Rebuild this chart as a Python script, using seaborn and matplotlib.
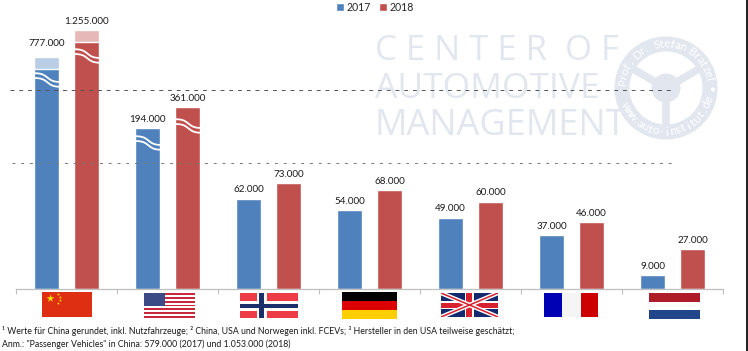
import numpy as np
import pandas as pd
import matplotlib
matplotlib.use("Agg")
import matplotlib.pyplot as plt
import matplotlib.patches as mpatches
import seaborn as sns

countries = ["China", "USA", "Norwegen", "Deutschland", "UK", "Frankreich", "Niederlande"]
total_2017 = [777000, 194000, 62000, 54000, 49000, 37000, 9000]
total_2018 = [1255000, 361000, 73000, 68000, 60000, 46000, 27000]
# China solid part = passenger vehicles only
solid_2017 = [579000, 194000, 62000, 54000, 49000, 37000, 9000]
solid_2018 = [1053000, 361000, 73000, 68000, 60000, 46000, 27000]
years = ["2017", "2018"]

footnote_1 = "¹ Werte für China gerundet, inkl. Nutzfahrzeuge; ² China, USA und Norwegen inkl. FCEVs; ³ Hersteller in den USA teilweise geschätzt;"
footnote_2 = 'Anm.: "Passenger Vehicles" in China: 579.000 (2017) und 1.053.000 (2018)'

BLUE, RED = "#4F81BD", "#C0504D"
LIGHT_BLUE, LIGHT_RED = "#B9CDE5", "#E6B9B8"
MARK = "#E2E7EF"

sns.set_theme(style="white")
plt.rcParams["font.family"] = ["Lato", "DejaVu Sans"]

df_total = pd.DataFrame({"country": countries * 2,
                         "year": [years[0]] * 7 + [years[1]] * 7,
                         "value": total_2017 + total_2018})
df_solid = pd.DataFrame({"country": countries * 2,
                         "year": [years[0]] * 7 + [years[1]] * 7,
                         "value": solid_2017 + solid_2018})

W, H = 748, 351
BASE = 288.5
fig = plt.figure(figsize=(W / 100, H / 100), dpi=100, facecolor="white")

# overlay in image pixels, sits behind the bars for the watermark
bg = fig.add_axes([0, 0, 1, 1], zorder=0)
bg.set_xlim(0, W)
bg.set_ylim(H, 0)
bg.axis("off")

for txt, y, size in [("C E N T E R  O F", 50.5, 25), ("AUTOMOTIVE", 89, 25.5), ("MANAGEMENT", 126, 26)]:
    bg.text(375, y, txt, color=MARK, fontsize=size, va="center", ha="left", family="Open Sans")

# steering wheel stamp
cx, cy = 666, 88
bg.add_patch(mpatches.Wedge((cx, cy), 51.5, 0, 360, width=15, color=MARK, lw=0))
bg.add_patch(mpatches.Circle((cx, cy), 14.5, color=MARK, lw=0))
for a in [150, 30, 270]:
    r = np.radians(a)
    bg.plot([cx, cx + 38 * np.cos(r)], [cy, cy - 38 * np.sin(r)], color=MARK, lw=5.5, solid_capstyle="butt")


def ring_text(s, start, end, top=True):
    for ch, a in zip(s, np.linspace(start, end, len(s))):
        r = np.radians(a)
        rot = a - 90 if top else a + 90
        bg.text(cx + 44 * np.cos(r), cy - 44 * np.sin(r), ch, rotation=rot, rotation_mode="anchor",
                ha="center", va="center", fontsize=8.5, color="white")


ring_text("Prof. Dr. Stefan Bratzel", 172, 12)
ring_text("•", -2, -2)
ring_text("www.auto-institut.de", 205, 345, top=False)

bg.add_patch(mpatches.Rectangle((746, 0), 2, H, color="#222222", lw=0))

# bars
ax = fig.add_axes([16 / W, 1 - BASE / H, 707 / W, BASE / H], zorder=1)
ax.patch.set_alpha(0)
sns.barplot(data=df_total, x="country", y="value", hue="year", hue_order=years, palette=[LIGHT_BLUE, LIGHT_RED],
            width=0.79, gap=0.386, saturation=1, legend=False, ax=ax)
sns.barplot(data=df_solid, x="country", y="value", hue="year", hue_order=years, palette=[BLUE, RED],
            width=0.79, gap=0.386, saturation=1, ax=ax)

# broken axis: value -> height in pixels above the baseline
knots_v = [0, 73000, 194000, 361000, 579000, 777000, 1053000, 1255000, 2000000]
knots_h = [0, 105.5, 160.5, 181.5, 219.5, 231.5, 246.5, 258.5, BASE]
ax.set_yscale("function", functions=(lambda v: np.interp(v, knots_v, knots_h),
                                     lambda h: np.interp(h, knots_h, knots_v)))
ax.set_ylim(0, 2000000)
ax.set_xlim(-0.5, 6.5)
ax.set_xlabel("")
ax.set_ylabel("")
ax.set_yticks([])
ax.set_xticks(np.arange(-0.5, 7), [""] * 8)
ax.tick_params(axis="x", length=3.5, width=0.8, color="#BFBFBF", bottom=True)
sns.despine(ax=ax, left=True)
ax.spines["bottom"].set_color("#BFBFBF")
ax.spines["bottom"].set_linewidth(0.9)

extra = {(0, 0): 3}
for j, vals in enumerate([total_2017, total_2018]):
    for i, (bar, v) in enumerate(zip(ax.containers[j], vals)):
        ax.annotate(f"{v:,}".replace(",", "."), (bar.get_x() + bar.get_width() / 2, v),
                    xytext=(0, 3.2 + extra.get((j, i), 0)), textcoords="offset points",
                    ha="center", va="bottom", fontsize=7.1, color="#1A1A1A")

handles, labels = ax.get_legend_handles_labels()
ax.legend(handles, labels, ncol=2, frameon=False, fontsize=7.6, handlelength=0.75, handleheight=0.75,
          handletextpad=0.3, columnspacing=0.7, loc="upper center", bbox_to_anchor=(375 / W, 0.995),
          bbox_transform=fig.transFigure, borderpad=0, borderaxespad=0)

# top overlay: breaks, dashed lines, flags, footnotes
top = fig.add_axes([0, 0, 1, 1], zorder=2)
top.set_xlim(0, W)
top.set_ylim(H, 0)
top.axis("off")

top.plot([10, 675], [90, 90], color="#555555", lw=0.7, dashes=(4, 5))
top.plot([12, 675], [163, 163], color="#777777", lw=0.7, dashes=(3, 6))

# white double wave across the broken bars
s = np.linspace(-1, 1, 30)
for x0, yc in [(35, 80), (75, 56), (136, 143), (176, 126)]:
    x = x0 + (s + 1) * 12.5
    wave = 4.5 * np.tanh(2.2 * s)
    for off in (-2.4, 2.4):
        top.plot(x, yc + wave + off, color="white", lw=1.3, solid_capstyle="butt")


def rect(x0, y0, x1, y1, c, **kw):
    top.add_patch(mpatches.Rectangle((x0, y0), x1 - x0, y1 - y0, color=c, lw=0, **kw))


# China
rect(42, 292, 92, 317, "#DE2F12")
top.scatter([50.5], [298], marker="*", s=34, color="#FFDE00", lw=0)
top.scatter([58, 60.5, 60.5, 58], [294, 296.5, 300, 303], marker="*", s=5, color="#FFDE00", lw=0)

# USA
for k in range(13):
    y0 = 293 + k * 25 / 13
    rect(144, y0, 195, y0 + 25 / 13, "#C8283E" if k % 2 == 0 else "white")
rect(144, 293, 165, 306, "#3C4A86")

# Norway
rect(240, 293, 298, 318, "#EE3C46")
rect(257, 293, 267, 318, "white")
rect(240, 300.5, 298, 310.5, "white")
rect(259.5, 293, 264, 318, "#1B2F6B")
rect(240, 303.5, 298, 307.5, "#1B2F6B")

# Germany
rect(342, 292, 397, 301, "#000000")
rect(342, 301, 397, 310, "#DD0000")
rect(342, 310, 397, 319, "#FFCE00")

# UK
ux0, ux1, uy0, uy1 = 441, 498, 293, 317
clip = mpatches.Rectangle((ux0, uy0), ux1 - ux0, uy1 - uy0, transform=top.transData)
rect(ux0, uy0, ux1, uy1, "#14296E")
for c, lw in [("white", 3.2), ("#D8202F", 1.1)]:
    for ya, yb in [(uy0, uy1), (uy1, uy0)]:
        line, = top.plot([ux0, ux1], [ya, yb], color=c, lw=lw, solid_capstyle="butt")
        line.set_clip_path(clip)
rect(ux0, 301, ux1, 309, "white")
rect(465, uy0, 474, uy1, "white")
rect(ux0, 302.5, ux1, 307.5, "#D8202F")
rect(466.5, uy0, 472.5, uy1, "#D8202F")

# France
rect(544, 293, 562, 317, "#0000B4")
rect(562, 293, 581, 317, "#F5F5F5")
rect(581, 293, 598, 317, "#CC0000")

# Netherlands
rect(649, 293, 700, 302, "#AE1C28")
rect(649, 310, 700, 319, "#21468B")

top.text(2, 331, footnote_1, fontsize=6.35, color="#1A1A1A", va="center", ha="left")
top.text(2, 344, footnote_2, fontsize=6.35, color="#1A1A1A", va="center", ha="left")

fig.savefig("out.png", dpi=100)
